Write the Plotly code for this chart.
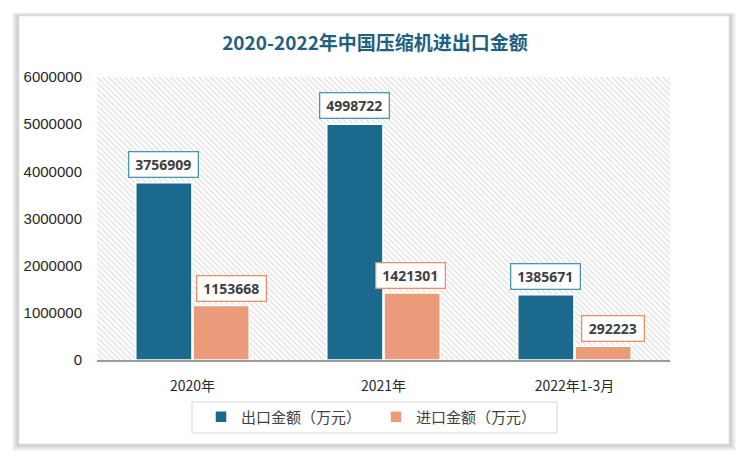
import plotly.graph_objects as go

categories = ["2020年", "2021年", "2022年1-3月"]
export_values = [3756909, 4998722, 1385671]
import_values = [1153668, 1421301, 292223]
series_names = ["出口金额（万元）", "进口金额（万元）"]
y_ticks = [0, 1000000, 2000000, 3000000, 4000000, 5000000, 6000000]
title_text = "2020-2022年中国压缩机进出口金额"

BLUE = "#1b6a8d"
ORANGE = "#e99b7a"
W, H = 750, 461
ML, MR, MT, MB = 97, 80, 77, 101
PW, PH = W - ML - MR, H - MT - MB


def px(x):
    return (x - ML) / PW


def py(y):
    return (H - MB - y) / PH


fig = go.Figure()

# hatched plot background (hidden axes x/y)
fig.add_trace(go.Bar(
    x=[0.5], y=[1], width=[1], xaxis="x", yaxis="y",
    marker=dict(color="white", line=dict(width=0),
                pattern=dict(shape="\\", fgcolor="#bdbdbd", bgcolor="white",
                             size=4, solidity=0.3)),
    showlegend=False, hoverinfo="skip",
))

fig.add_trace(go.Bar(
    x=categories, y=export_values, name=series_names[0], xaxis="x2", yaxis="y2",
    marker=dict(color=BLUE, line=dict(color="white", width=1.5)),
))
fig.add_trace(go.Bar(
    x=categories, y=import_values, name=series_names[1], xaxis="x2", yaxis="y2",
    marker=dict(color=ORANGE, line=dict(color="white", width=1.5)),
))

half = PW / len(categories) * 0.3 / 2
import_dx = [10, -1.5, 10]
label_font = dict(family="Noto Sans", size=14, color="#404040", weight="bold")
annotations = []
for i, c in enumerate(categories):
    annotations.append(dict(
        x=c, y=export_values[i], xref="x2", yref="y2", text=str(export_values[i]),
        showarrow=False, yanchor="bottom", xshift=-half, yshift=5,
        width=62, height=18,
        bgcolor="white", bordercolor="#4f93b0", borderwidth=1.3, borderpad=3,
        font=label_font,
    ))
    annotations.append(dict(
        x=c, y=import_values[i], xref="x2", yref="y2", text=str(import_values[i]),
        showarrow=False, yanchor="bottom", xshift=half + import_dx[i], yshift=4,
        width=62 if import_values[i] >= 1000000 else 55, height=18,
        bgcolor="white", bordercolor="#ea8f69", borderwidth=1.3, borderpad=3,
        font=label_font,
    ))

shapes = []
# card shadow
for k in range(7, 0, -1):
    shapes.append(dict(
        type="rect", xref="paper", yref="paper", layer="below",
        x0=px(19 - k), x1=px(729 + k), y0=py(444 + k), y1=py(16 - k * 0.5),
        fillcolor="rgba(0,0,0,0.03)", line=dict(width=0),
    ))
shapes.append(dict(
    type="rect", xref="paper", yref="paper", layer="below",
    x0=px(19), x1=px(729), y0=py(444), y1=py(16),
    fillcolor="white", line=dict(color="#e6e6e6", width=1),
))
# legend box
shapes.append(dict(
    type="rect", xref="paper", yref="paper", layer="below",
    x0=px(192), x1=px(557), y0=py(433), y1=py(402),
    fillcolor="white", line=dict(color="#d6d6d6", width=1),
))

fig.update_layout(
    width=W, height=H,
    margin=dict(l=ML, r=MR, t=MT, b=MB),
    paper_bgcolor="white", plot_bgcolor="rgba(0,0,0,0)",
    barmode="group", bargap=0.4, bargroupgap=0.02,
    title=dict(text=title_text, x=0.5, xanchor="center", y=1 - 43 / H, yanchor="middle",
               font=dict(family="Noto Sans CJK SC", size=19, color="#1f5f7f", weight="bold")),
    xaxis=dict(range=[0, 1], visible=False, fixedrange=True),
    yaxis=dict(range=[0, 1], visible=False, fixedrange=True),
    xaxis2=dict(overlaying="x", side="bottom", type="category", automargin=False,
                showline=True, linecolor="#9a9a9a", linewidth=1.5,
                showgrid=False, ticks="", ticklabelstandoff=12,
                tickfont=dict(family="Noto Sans CJK SC", size=14, color="#262626")),
    yaxis2=dict(overlaying="y", side="left", range=[0, 6000000], automargin=False,
                tickvals=y_ticks, tickformat="d", showgrid=False, showline=False,
                zeroline=False, ticks="", ticklabelstandoff=14,
                tickfont=dict(family="Liberation Sans", size=15, color="#262626")),
    legend=dict(orientation="h", x=px(376), xanchor="center", y=py(417), yanchor="middle",
                bgcolor="rgba(0,0,0,0)", borderwidth=0, entrywidth=130,
                font=dict(family="Noto Sans CJK SC", size=15, color="#404040")),
    annotations=annotations, shapes=shapes,
)

fig.write_html("out.html", config={"displayModeBar": False},
               post_script="document.body.style.margin='0';")
